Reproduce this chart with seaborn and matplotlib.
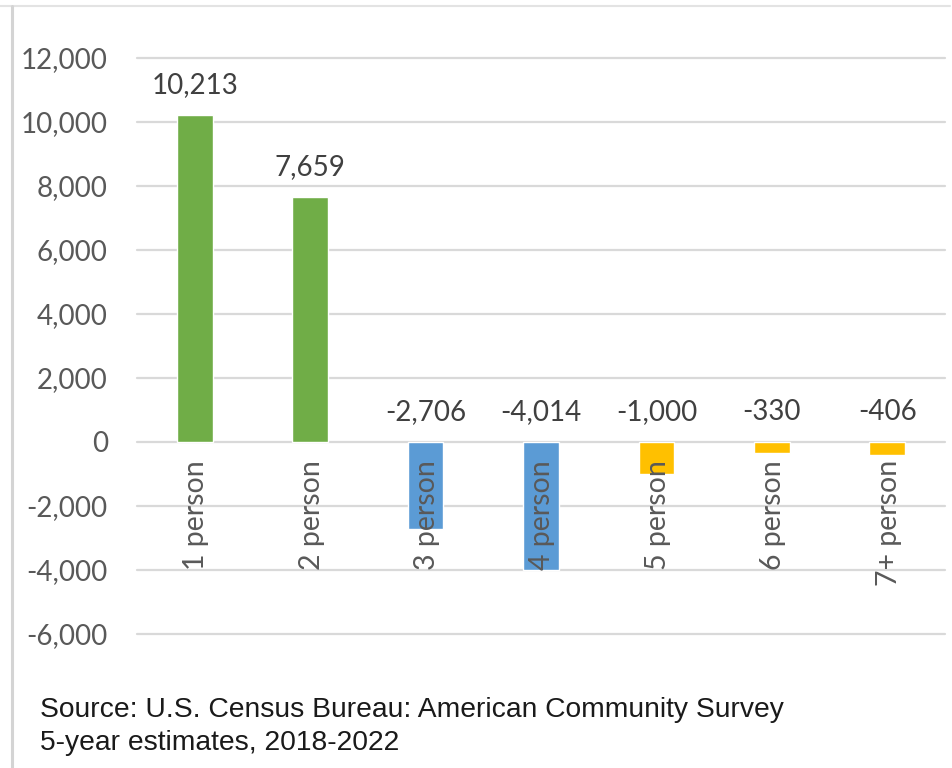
import matplotlib
matplotlib.use("Agg")
import matplotlib.pyplot as plt
import matplotlib.lines as mlines
import seaborn as sns
import pandas as pd

# Change in households by household size
categories = ["1 person", "2 person", "3 person", "4 person", "5 person", "6 person", "7+ person"]
changes = [10213, 7659, -2706, -4014, -1000, -330, -406]
bar_colors = ["#70AD47", "#70AD47", "#5B9BD5", "#5B9BD5", "#FFC000", "#FFC000", "#FFC000"]
y_ticks = [-6000, -4000, -2000, 0, 2000, 4000, 6000, 8000, 10000, 12000]
source_lines = ["Source: U.S. Census Bureau: American Community Survey",
                "5-year estimates, 2018-2022"]

df = pd.DataFrame({"size": categories, "change": changes})

sns.set_theme(style="white")
plt.rcParams["font.family"] = ["Lato", "DejaVu Sans"]

W, H = 953, 768
fig = plt.figure(figsize=(W / 100, H / 100), dpi=100)
fig.patch.set_facecolor("white")

ax_left, ax_right, ax_top, ax_bot = 137, 945, 58, 634
ax = fig.add_axes([ax_left / W, 1 - ax_bot / H, (ax_right - ax_left) / W, (ax_bot - ax_top) / H])

sns.barplot(data=df, x="size", y="change", hue="size",
            palette=dict(zip(categories, bar_colors)),
            width=0.31, dodge=False, legend=False, saturation=1, ax=ax)

ax.set_xlim(-0.5, len(categories) - 0.5)
ax.set_ylim(y_ticks[0], y_ticks[-1])
ax.set_yticks(y_ticks)
ax.set_yticklabels([f"{v:,}" for v in y_ticks])
ax.tick_params(axis="y", length=0, pad=21, labelsize=20, labelcolor="#595959")
ax.set_xticks([])
ax.set_xlabel("")
ax.set_ylabel("")
for s in ax.spines.values():
    s.set_visible(False)

ax.yaxis.grid(True, color="#d9d9d9", linewidth=1.6)
for gl in ax.get_ygridlines():
    gl.set_clip_on(False)
ax.set_axisbelow(True)

# value labels sit above the bar top, or above the zero line for decreases
for i, v in enumerate(changes):
    ax.annotate(f"{v:,}", (i, max(v, 0)), xytext=(0, 16), textcoords="offset points",
                ha="center", va="baseline", fontsize=20, color="#404040")

# category names run vertically just below the zero line
for i, c in enumerate(categories):
    ax.annotate(c, (i, 0), xytext=(1, -13), textcoords="offset points",
                ha="center", va="top", rotation=90, fontsize=20.5, color="#595959")

# frame edges along the top and left of the figure
fig.add_artist(mlines.Line2D([0, 950 / W], [1 - 6 / H, 1 - 6 / H], color="#e3e3e3", linewidth=1.5))
fig.add_artist(mlines.Line2D([12.5 / W, 12.5 / W], [0, 1 - 6 / H], color="#d4d4d4", linewidth=2.2))

for line, baseline in zip(source_lines, [717, 750]):
    fig.text(40 / W, 1 - baseline / H, line, ha="left", va="baseline",
             fontsize=20.3, color="#1a1a1a",
             family=["Liberation Sans", "DejaVu Sans"])

fig.savefig("out.png", dpi=100, facecolor="white")
